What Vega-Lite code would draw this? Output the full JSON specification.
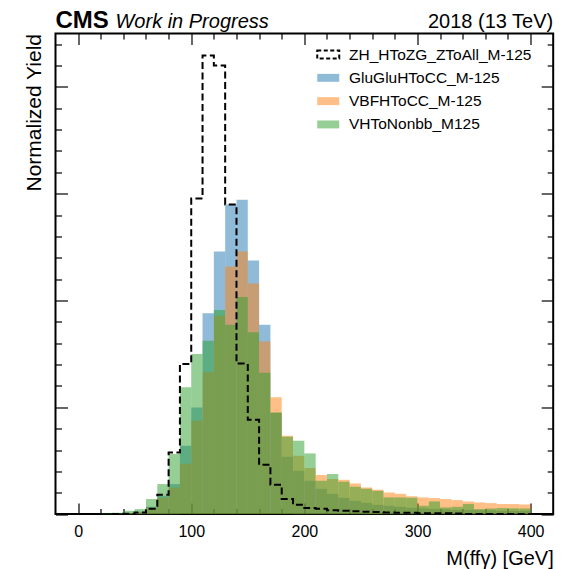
{
  "$schema": "https://vega.github.io/schema/vega-lite/v6.json",
  "width": 497.7,
  "height": 480.6,
  "padding": {"left": 23.5, "top": 8.5, "right": 5, "bottom": 5},
  "config": {
    "font": "Liberation Sans",
    "view": {"stroke": "black", "strokeWidth": 2},
    "axis": {"grid": false, "domain": false, "tickColor": "black", "tickWidth": 1.2, "labelColor": "black", "titleColor": "black", "titleFontWeight": "normal"}
  },
  "data": {
    "values": [
      {"lo": 20, "hi": 30, "ZH_HToZG_ZToAll_M-125": 0, "GluGluHToCC_M-125": 0, "VBFHToCC_M-125": 0, "VHToNonbb_M125": 0.005},
      {"lo": 30, "hi": 40, "ZH_HToZG_ZToAll_M-125": 0, "GluGluHToCC_M-125": 0, "VBFHToCC_M-125": 0, "VHToNonbb_M125": 0.012},
      {"lo": 40, "hi": 50, "ZH_HToZG_ZToAll_M-125": 0.003, "GluGluHToCC_M-125": 0.008, "VBFHToCC_M-125": 0.008, "VHToNonbb_M125": 0.031},
      {"lo": 50, "hi": 60, "ZH_HToZG_ZToAll_M-125": 0.015, "GluGluHToCC_M-125": 0.022, "VBFHToCC_M-125": 0.017, "VHToNonbb_M125": 0.047},
      {"lo": 60, "hi": 70, "ZH_HToZG_ZToAll_M-125": 0.05, "GluGluHToCC_M-125": 0.068, "VBFHToCC_M-125": 0.059, "VHToNonbb_M125": 0.141},
      {"lo": 70, "hi": 80, "ZH_HToZG_ZToAll_M-125": 0.18, "GluGluHToCC_M-125": 0.172, "VBFHToCC_M-125": 0.153, "VHToNonbb_M125": 0.281},
      {"lo": 80, "hi": 90, "ZH_HToZG_ZToAll_M-125": 0.577, "GluGluHToCC_M-125": 0.281, "VBFHToCC_M-125": 0.249, "VHToNonbb_M125": 0.562},
      {"lo": 90, "hi": 100, "ZH_HToZG_ZToAll_M-125": 1.406, "GluGluHToCC_M-125": 0.64, "VBFHToCC_M-125": 0.471, "VHToNonbb_M125": 1.187},
      {"lo": 100, "hi": 110, "ZH_HToZG_ZToAll_M-125": 2.955, "GluGluHToCC_M-125": 0.999, "VBFHToCC_M-125": 0.874, "VHToNonbb_M125": 1.5},
      {"lo": 110, "hi": 120, "ZH_HToZG_ZToAll_M-125": 4.295, "GluGluHToCC_M-125": 1.88, "VBFHToCC_M-125": 1.327, "VHToNonbb_M125": 1.624},
      {"lo": 120, "hi": 130, "ZH_HToZG_ZToAll_M-125": 4.2, "GluGluHToCC_M-125": 2.458, "VBFHToCC_M-125": 1.858, "VHToNonbb_M125": 1.912},
      {"lo": 130, "hi": 140, "ZH_HToZG_ZToAll_M-125": 2.899, "GluGluHToCC_M-125": 2.899, "VBFHToCC_M-125": 2.318, "VHToNonbb_M125": 1.774},
      {"lo": 140, "hi": 150, "ZH_HToZG_ZToAll_M-125": 1.409, "GluGluHToCC_M-125": 2.943, "VBFHToCC_M-125": 2.458, "VHToNonbb_M125": 2.032},
      {"lo": 150, "hi": 160, "ZH_HToZG_ZToAll_M-125": 0.884, "GluGluHToCC_M-125": 2.374, "VBFHToCC_M-125": 2.158, "VHToNonbb_M125": 1.702},
      {"lo": 160, "hi": 170, "ZH_HToZG_ZToAll_M-125": 0.462, "GluGluHToCC_M-125": 1.774, "VBFHToCC_M-125": 1.615, "VHToNonbb_M125": 1.324},
      {"lo": 170, "hi": 180, "ZH_HToZG_ZToAll_M-125": 0.275, "GluGluHToCC_M-125": 0.949, "VBFHToCC_M-125": 1.093, "VHToNonbb_M125": 0.952},
      {"lo": 180, "hi": 190, "ZH_HToZG_ZToAll_M-125": 0.141, "GluGluHToCC_M-125": 0.537, "VBFHToCC_M-125": 0.734, "VHToNonbb_M125": 0.724},
      {"lo": 190, "hi": 200, "ZH_HToZG_ZToAll_M-125": 0.087, "GluGluHToCC_M-125": 0.406, "VBFHToCC_M-125": 0.546, "VHToNonbb_M125": 0.687},
      {"lo": 200, "hi": 210, "ZH_HToZG_ZToAll_M-125": 0.056, "GluGluHToCC_M-125": 0.312, "VBFHToCC_M-125": 0.431, "VHToNonbb_M125": 0.568},
      {"lo": 210, "hi": 220, "ZH_HToZG_ZToAll_M-125": 0.05, "GluGluHToCC_M-125": 0.237, "VBFHToCC_M-125": 0.366, "VHToNonbb_M125": 0.312},
      {"lo": 220, "hi": 230, "ZH_HToZG_ZToAll_M-125": 0.037, "GluGluHToCC_M-125": 0.19, "VBFHToCC_M-125": 0.328, "VHToNonbb_M125": 0.375},
      {"lo": 230, "hi": 240, "ZH_HToZG_ZToAll_M-125": 0.031, "GluGluHToCC_M-125": 0.153, "VBFHToCC_M-125": 0.321, "VHToNonbb_M125": 0.303},
      {"lo": 240, "hi": 250, "ZH_HToZG_ZToAll_M-125": 0.026, "GluGluHToCC_M-125": 0.125, "VBFHToCC_M-125": 0.287, "VHToNonbb_M125": 0.256},
      {"lo": 250, "hi": 260, "ZH_HToZG_ZToAll_M-125": 0.022, "GluGluHToCC_M-125": 0.106, "VBFHToCC_M-125": 0.249, "VHToNonbb_M125": 0.237},
      {"lo": 260, "hi": 270, "ZH_HToZG_ZToAll_M-125": 0.019, "GluGluHToCC_M-125": 0.087, "VBFHToCC_M-125": 0.228, "VHToNonbb_M125": 0.218},
      {"lo": 270, "hi": 280, "ZH_HToZG_ZToAll_M-125": 0.016, "GluGluHToCC_M-125": 0.078, "VBFHToCC_M-125": 0.202, "VHToNonbb_M125": 0.156},
      {"lo": 280, "hi": 290, "ZH_HToZG_ZToAll_M-125": 0.012, "GluGluHToCC_M-125": 0.068, "VBFHToCC_M-125": 0.19, "VHToNonbb_M125": 0.156},
      {"lo": 290, "hi": 300, "ZH_HToZG_ZToAll_M-125": 0.012, "GluGluHToCC_M-125": 0.059, "VBFHToCC_M-125": 0.167, "VHToNonbb_M125": 0.153},
      {"lo": 300, "hi": 310, "ZH_HToZG_ZToAll_M-125": 0.009, "GluGluHToCC_M-125": 0.054, "VBFHToCC_M-125": 0.156, "VHToNonbb_M125": 0.078},
      {"lo": 310, "hi": 320, "ZH_HToZG_ZToAll_M-125": 0.007, "GluGluHToCC_M-125": 0.05, "VBFHToCC_M-125": 0.15, "VHToNonbb_M125": 0.118},
      {"lo": 320, "hi": 330, "ZH_HToZG_ZToAll_M-125": 0.007, "GluGluHToCC_M-125": 0.045, "VBFHToCC_M-125": 0.141, "VHToNonbb_M125": 0.062},
      {"lo": 330, "hi": 340, "ZH_HToZG_ZToAll_M-125": 0.005, "GluGluHToCC_M-125": 0.04, "VBFHToCC_M-125": 0.131, "VHToNonbb_M125": 0.068},
      {"lo": 340, "hi": 350, "ZH_HToZG_ZToAll_M-125": 0, "GluGluHToCC_M-125": 0.04, "VBFHToCC_M-125": 0.118, "VHToNonbb_M125": 0.094},
      {"lo": 350, "hi": 360, "ZH_HToZG_ZToAll_M-125": 0, "GluGluHToCC_M-125": 0.036, "VBFHToCC_M-125": 0.109, "VHToNonbb_M125": 0.047},
      {"lo": 360, "hi": 370, "ZH_HToZG_ZToAll_M-125": 0, "GluGluHToCC_M-125": 0.036, "VBFHToCC_M-125": 0.103, "VHToNonbb_M125": 0.052},
      {"lo": 370, "hi": 380, "ZH_HToZG_ZToAll_M-125": 0, "GluGluHToCC_M-125": 0.031, "VBFHToCC_M-125": 0.094, "VHToNonbb_M125": 0.056},
      {"lo": 380, "hi": 390, "ZH_HToZG_ZToAll_M-125": 0, "GluGluHToCC_M-125": 0.031, "VBFHToCC_M-125": 0.094, "VHToNonbb_M125": 0.054},
      {"lo": 390, "hi": 400, "ZH_HToZG_ZToAll_M-125": 0, "GluGluHToCC_M-125": 0.031, "VBFHToCC_M-125": 0.09, "VHToNonbb_M125": 0.052},
      {"lo": 400, "hi": 410, "ZH_HToZG_ZToAll_M-125": 0, "GluGluHToCC_M-125": 0, "VBFHToCC_M-125": 0, "VHToNonbb_M125": 0}
    ]
  },
  "layer": [
    {
      "transform": [
        {"fold": ["GluGluHToCC_M-125", "VBFHToCC_M-125", "VHToNonbb_M125"], "as": ["sample", "yield"]},
        {"filter": "datum.lo < 400"}
      ],
      "mark": {"type": "bar", "fillOpacity": 0.5, "strokeWidth": 0},
      "encoding": {
        "x": {
          "field": "lo", "type": "quantitative",
          "scale": {"domain": [-20, 420], "nice": false, "zero": false},
          "axis": {
            "orient": "bottom",
            "values": [0, 100, 200, 300, 400],
            "tickSize": -11,
            "labelPadding": 20, "labelFontSize": 16, "labelFlush": false, "labelOverlap": false, "labelBound": false,
            "title": "M(ffγ) [GeV]", "titleAnchor": "end", "titleFontSize": 20, "titlePadding": 9
          }
        },
        "x2": {"field": "hi"},
        "y": {
          "field": "yield", "type": "quantitative", "stack": null,
          "scale": {"domain": [0, 4.5], "nice": false, "zero": true},
          "axis": {
            "orient": "left",
            "values": [0, 1, 2, 3, 4],
            "labels": false,
            "tickSize": -12,
            "title": "Normalized Yield", "titleAnchor": "end", "titleFontSize": 21, "titlePadding": 10
          }
        },
        "y2": {"datum": 0},
        "color": {
          "field": "sample", "type": "nominal",
          "scale": {
            "domain": ["ZH_HToZG_ZToAll_M-125", "GluGluHToCC_M-125", "VBFHToCC_M-125", "VHToNonbb_M125"],
            "range": ["#000000", "#1f77b4", "#ff7f0e", "#2ca02c"]
          },
          "legend": {
            "orient": "none", "legendX": 265, "legendY": 13.3, "title": null, "padding": 0,
            "labelFontSize": 15.5, "labelColor": "black", "labelOffset": 13, "rowPadding": 6.3, "labelLimit": 400,
            "symbolType": "M-1,-0.36H1V0.36H-1Z", "symbolSize": 484,
            "encode": {
              "symbols": {
                "update": {
                  "fill": {"signal": "datum.value === 'ZH_HToZG_ZToAll_M-125' ? 'transparent' : scale('color', datum.value)"},
                  "fillOpacity": {"signal": "datum.value === 'ZH_HToZG_ZToAll_M-125' ? 0 : 0.5"},
                  "stroke": {"signal": "datum.value === 'ZH_HToZG_ZToAll_M-125' ? 'black' : scale('color', datum.value)"},
                  "strokeOpacity": {"signal": "datum.value === 'ZH_HToZG_ZToAll_M-125' ? 1 : 0"},
                  "strokeDash": {"signal": "datum.value === 'ZH_HToZG_ZToAll_M-125' ? [4, 2.5] : [1, 0]"},
                  "strokeWidth": {"signal": "datum.value === 'ZH_HToZG_ZToAll_M-125' ? 2 : 0"},
                  "opacity": {"value": 1}
                }
              }
            }
          }
        }
      }
    },
    {
      "transform": [
        {"fold": ["ZH_HToZG_ZToAll_M-125"], "as": ["sample", "yield"]},
        {"filter": "datum.lo >= 30"}
      ],
      "mark": {"type": "line", "interpolate": "step-after", "strokeWidth": 2, "strokeDash": [7, 3.5]},
      "encoding": {
        "x": {
          "field": "lo", "type": "quantitative",
          "scale": {"domain": [-20, 420], "nice": false, "zero": false},
          "axis": {"orient": "top", "values": [0, 100, 200, 300, 400], "labels": false, "title": null, "tickSize": -11}
        },
        "y": {
          "field": "yield", "type": "quantitative",
          "scale": {"domain": [0, 4.5], "nice": false, "zero": true},
          "axis": {"orient": "right", "values": [0, 1, 2, 3, 4], "labels": false, "title": null, "tickSize": -12}
        },
        "color": {"field": "sample", "type": "nominal"}
      }
    },
    {
      "data": {"values": [{"label": "CMS"}]},
      "mark": {"type": "text", "fontSize": 24, "fontWeight": "bold", "align": "left", "baseline": "alphabetic", "dy": -5.5, "color": "black"},
      "encoding": {
        "x": {"datum": -20, "type": "quantitative", "scale": {"domain": [-20, 420], "nice": false, "zero": false},
          "axis": {"orient": "bottom", "values": [20, 40, 60, 80, 120, 140, 160, 180, 220, 240, 260, 280, 320, 340, 360, 380], "labels": false, "title": null, "tickSize": -5.5}},
        "y": {"datum": 4.5, "type": "quantitative", "scale": {"domain": [0, 4.5], "nice": false, "zero": true},
          "axis": {"orient": "left", "values": [0.2, 0.4, 0.6, 0.8, 1.2, 1.4, 1.6, 1.8, 2.2, 2.4, 2.6, 2.8, 3.2, 3.4, 3.6, 3.8, 4.2, 4.4], "labels": false, "title": null, "tickSize": -6}},
        "text": {"field": "label"}
      }
    },
    {
      "data": {"values": [{"label": "Work in Progress"}]},
      "mark": {"type": "text", "fontSize": 20, "fontStyle": "italic", "align": "left", "baseline": "alphabetic", "dx": 60, "dy": -5.5, "color": "black"},
      "encoding": {
        "x": {"datum": -20, "type": "quantitative", "scale": {"domain": [-20, 420], "nice": false, "zero": false},
          "axis": {"orient": "top", "values": [20, 40, 60, 80, 120, 140, 160, 180, 220, 240, 260, 280, 320, 340, 360, 380], "labels": false, "title": null, "tickSize": -5.5}},
        "y": {"datum": 4.5, "type": "quantitative", "scale": {"domain": [0, 4.5], "nice": false, "zero": true},
          "axis": {"orient": "right", "values": [0.2, 0.4, 0.6, 0.8, 1.2, 1.4, 1.6, 1.8, 2.2, 2.4, 2.6, 2.8, 3.2, 3.4, 3.6, 3.8, 4.2, 4.4], "labels": false, "title": null, "tickSize": -6}},
        "text": {"field": "label"}
      }
    },
    {
      "data": {"values": [{"label": "2018 (13 TeV)"}]},
      "mark": {"type": "text", "fontSize": 20, "align": "right", "baseline": "alphabetic", "dy": -5.5, "color": "black"},
      "encoding": {
        "x": {"datum": 420, "type": "quantitative", "scale": {"domain": [-20, 420], "nice": false, "zero": false}, "axis": null},
        "y": {"datum": 4.5, "type": "quantitative", "scale": {"domain": [0, 4.5], "nice": false, "zero": true}, "axis": null},
        "text": {"field": "label"}
      }
    }
  ],
  "resolve": {"axis": {"x": "independent", "y": "independent"}, "scale": {"x": "shared", "y": "shared"}}
}
